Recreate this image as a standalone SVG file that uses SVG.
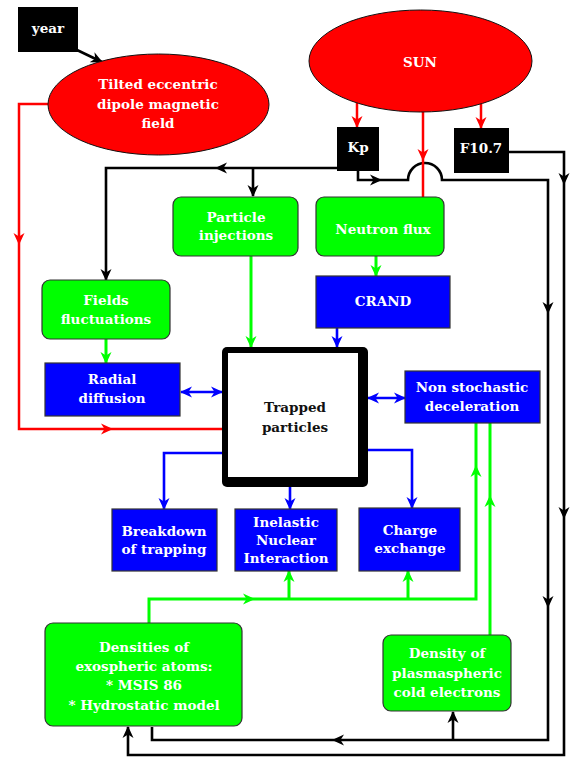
<svg xmlns="http://www.w3.org/2000/svg" width="570" height="758" viewBox="0 0 570 758">
<style>
text{font-family:'DejaVu Serif',serif;font-weight:bold;font-size:13.5px;text-anchor:middle;dominant-baseline:central;fill:#fff}
.dark{fill:#111}
.red{fill:#ff0000;stroke:#111;stroke-width:1}
.green{fill:#00ff00;stroke:#333;stroke-width:1.2}
.blue{fill:#0000ff;stroke:#333;stroke-width:1.2}
.black{fill:#000}
.c{fill:none;stroke-linejoin:miter}
.k{stroke:#000;stroke-width:2.6}
.r{stroke:#ff0000;stroke-width:2.5}
.g{stroke:#00ff00;stroke-width:3}
.b{stroke:#0000ff;stroke-width:2.6}
</style>
<defs>
<marker id="ak" viewBox="0 0 12 12" markerWidth="12" markerHeight="12" markerUnits="userSpaceOnUse" refX="11" refY="6" orient="auto-start-reverse"><path d="M0,0.5 L12,6 L0,11.5 L3.5,6 z" fill="#000"/></marker>
<marker id="ar" viewBox="0 0 12 12" markerWidth="12" markerHeight="12" markerUnits="userSpaceOnUse" refX="11" refY="6" orient="auto-start-reverse"><path d="M0,0.5 L12,6 L0,11.5 L3.5,6 z" fill="#ff0000"/></marker>
<marker id="ag" viewBox="0 0 12 12" markerWidth="12" markerHeight="12" markerUnits="userSpaceOnUse" refX="11" refY="6" orient="auto-start-reverse"><path d="M0,0.5 L12,6 L0,11.5 L3.5,6 z" fill="#00ff00"/></marker>
<marker id="ab" viewBox="0 0 12 12" markerWidth="12" markerHeight="12" markerUnits="userSpaceOnUse" refX="11" refY="6" orient="auto-start-reverse"><path d="M0,0.5 L12,6 L0,11.5 L3.5,6 z" fill="#0000ff"/></marker>
</defs>
<rect width="570" height="758" fill="#fff"/>

<g id="connectors">
  <path class="c k" d="M77,50 L102,62" marker-end="url(#ak)"/>
  <path class="c k" d="M337,168 L216,168" marker-end="url(#ak)"/>
  <path class="c k" d="M216,168 L106,168 L106,280" marker-end="url(#ak)"/>
  <path class="c k" d="M253,168 L253,196" marker-end="url(#ak)"/>
  <path class="c k" d="M358,171 L358,180 L381,180" marker-end="url(#ak)"/>
  <path class="c k" d="M381,180 L408,180 A17,17 0 0 1 442,180 L548,180 L548,313" marker-end="url(#ak)"/>
  <path class="c k" d="M548,313 L548,607" marker-end="url(#ak)"/>
  <path class="c k" d="M548,607 L548,740 L333,740" marker-end="url(#ak)"/>
  <path class="c k" d="M333,740 L152,740 L152,727"/>
  <path class="c k" d="M453,740 L453,712" marker-end="url(#ak)"/>
  <path class="c k" d="M509,152 L564,152 L564,184" marker-end="url(#ak)"/>
  <path class="c k" d="M564,184 L564,518" marker-end="url(#ak)"/>
  <path class="c k" d="M564,518 L564,755 L128,755 L128,727" marker-end="url(#ak)"/>
  <path class="c r" d="M357,103 L357,127" marker-end="url(#ar)"/>
  <path class="c r" d="M481,104 L481,128" marker-end="url(#ar)"/>
  <path class="c r" d="M423,112 L423,160" marker-end="url(#ar)"/>
  <path class="c r" d="M423,160 L423,197"/>
  <path class="c r" d="M48,104 L19,104 L19,244" marker-end="url(#ar)"/>
  <path class="c r" d="M19,244 L19,429 L112,429" marker-end="url(#ar)"/>
  <path class="c r" d="M112,429 L222,429"/>
  <path class="c g" d="M376,256 L376,276" marker-end="url(#ag)"/>
  <path class="c g" d="M251,256 L251,347" marker-end="url(#ag)"/>
  <path class="c g" d="M106,339 L106,363" marker-end="url(#ag)"/>
  <path class="c g" d="M149,623 L149,599 L254,599" marker-end="url(#ag)"/>
  <path class="c g" d="M254,599 L476,599 L476,466" marker-end="url(#ag)"/>
  <path class="c g" d="M476,466 L476,423"/>
  <path class="c g" d="M289,599 L289,571" marker-end="url(#ag)"/>
  <path class="c g" d="M408,599 L408,571" marker-end="url(#ag)"/>
  <path class="c g" d="M490,635 L490,496" marker-end="url(#ag)"/>
  <path class="c g" d="M490,496 L490,423"/>
  <path class="c b" d="M337,328 L337,347" marker-end="url(#ab)"/>
  <path class="c b" d="M181,392 L222,392" marker-start="url(#ab)" marker-end="url(#ab)"/>
  <path class="c b" d="M368,398 L405,398" marker-start="url(#ab)" marker-end="url(#ab)"/>
  <path class="c b" d="M222,453 L164,453 L164,509" marker-end="url(#ab)"/>
  <path class="c b" d="M368,450 L412,450 L412,508" marker-end="url(#ab)"/>
  <path class="c b" d="M290,487 L290,509" marker-end="url(#ab)"/>
</g>

<g id="year"><rect class="black" x="18" y="7" width="60" height="45"/><text x="48" y="28">year</text></g>
<g id="tilted"><ellipse class="red" cx="158.5" cy="104.5" rx="110.5" ry="50.5"/>
  <text x="158" y="84">Tilted eccentric</text><text x="158" y="104">dipole magnetic</text><text x="158" y="123">field</text></g>
<g id="sun"><ellipse class="red" cx="420.5" cy="61" rx="111.5" ry="51"/><text x="420" y="62">SUN</text></g>
<g id="kp"><rect class="black" x="337" y="127" width="42" height="44"/><text x="358" y="147">Kp</text></g>
<g id="f107"><rect class="black" x="454" y="128" width="55" height="45"/><text x="481" y="148">F10.7</text></g>
<g id="particle-injections"><rect class="green" x="173" y="197" width="125" height="59" rx="8"/>
  <text x="236" y="217">Particle</text><text x="236" y="235">injections</text></g>
<g id="neutron-flux"><rect class="green" x="316" y="197" width="128" height="59" rx="8"/><text x="383" y="229">Neutron flux</text></g>
<g id="crand"><rect class="blue" x="316" y="276" width="134" height="52"/><text x="383" y="301">CRAND</text></g>
<g id="fields-fluctuations"><rect class="green" x="42" y="280" width="128" height="59" rx="8"/>
  <text x="106" y="300">Fields</text><text x="106" y="319">fluctuations</text></g>
<g id="radial-diffusion"><rect class="blue" x="45" y="363" width="135" height="53"/>
  <text x="112" y="379">Radial</text><text x="112" y="398">diffusion</text></g>
<g id="trapped-particles"><rect class="black" x="222" y="347" width="146" height="140" rx="5"/>
  <rect x="228" y="353" width="130" height="124" fill="#fff"/>
  <text class="dark" x="295" y="407">Trapped</text><text class="dark" x="295" y="427">particles</text></g>
<g id="non-stochastic"><rect class="blue" x="405" y="371" width="135" height="52"/>
  <text x="472" y="387">Non stochastic</text><text x="472" y="406">deceleration</text></g>
<g id="breakdown"><rect class="blue" x="112" y="509" width="105" height="62"/>
  <text x="164" y="531">Breakdown</text><text x="164" y="549">of trapping</text></g>
<g id="inelastic"><rect class="blue" x="235" y="509" width="102" height="62"/>
  <text x="286" y="522">Inelastic</text><text x="286" y="540">Nuclear</text><text x="286" y="558">Interaction</text></g>
<g id="charge-exchange"><rect class="blue" x="359" y="508" width="101" height="63"/>
  <text x="410" y="530">Charge</text><text x="410" y="548">exchange</text></g>
<g id="exospheric"><rect class="green" x="45" y="623" width="197" height="103" rx="8"/>
  <text x="144" y="647">Densities of</text><text x="144" y="666">exospheric atoms:</text>
  <text x="144" y="685">* MSIS  86</text><text x="144" y="705">* Hydrostatic model</text></g>
<g id="plasmaspheric"><rect class="green" x="383" y="635" width="128" height="76" rx="8"/>
  <text x="447" y="653">Density of</text><text x="447" y="673">plasmaspheric</text><text x="447" y="692">cold electrons</text></g>
</svg>
